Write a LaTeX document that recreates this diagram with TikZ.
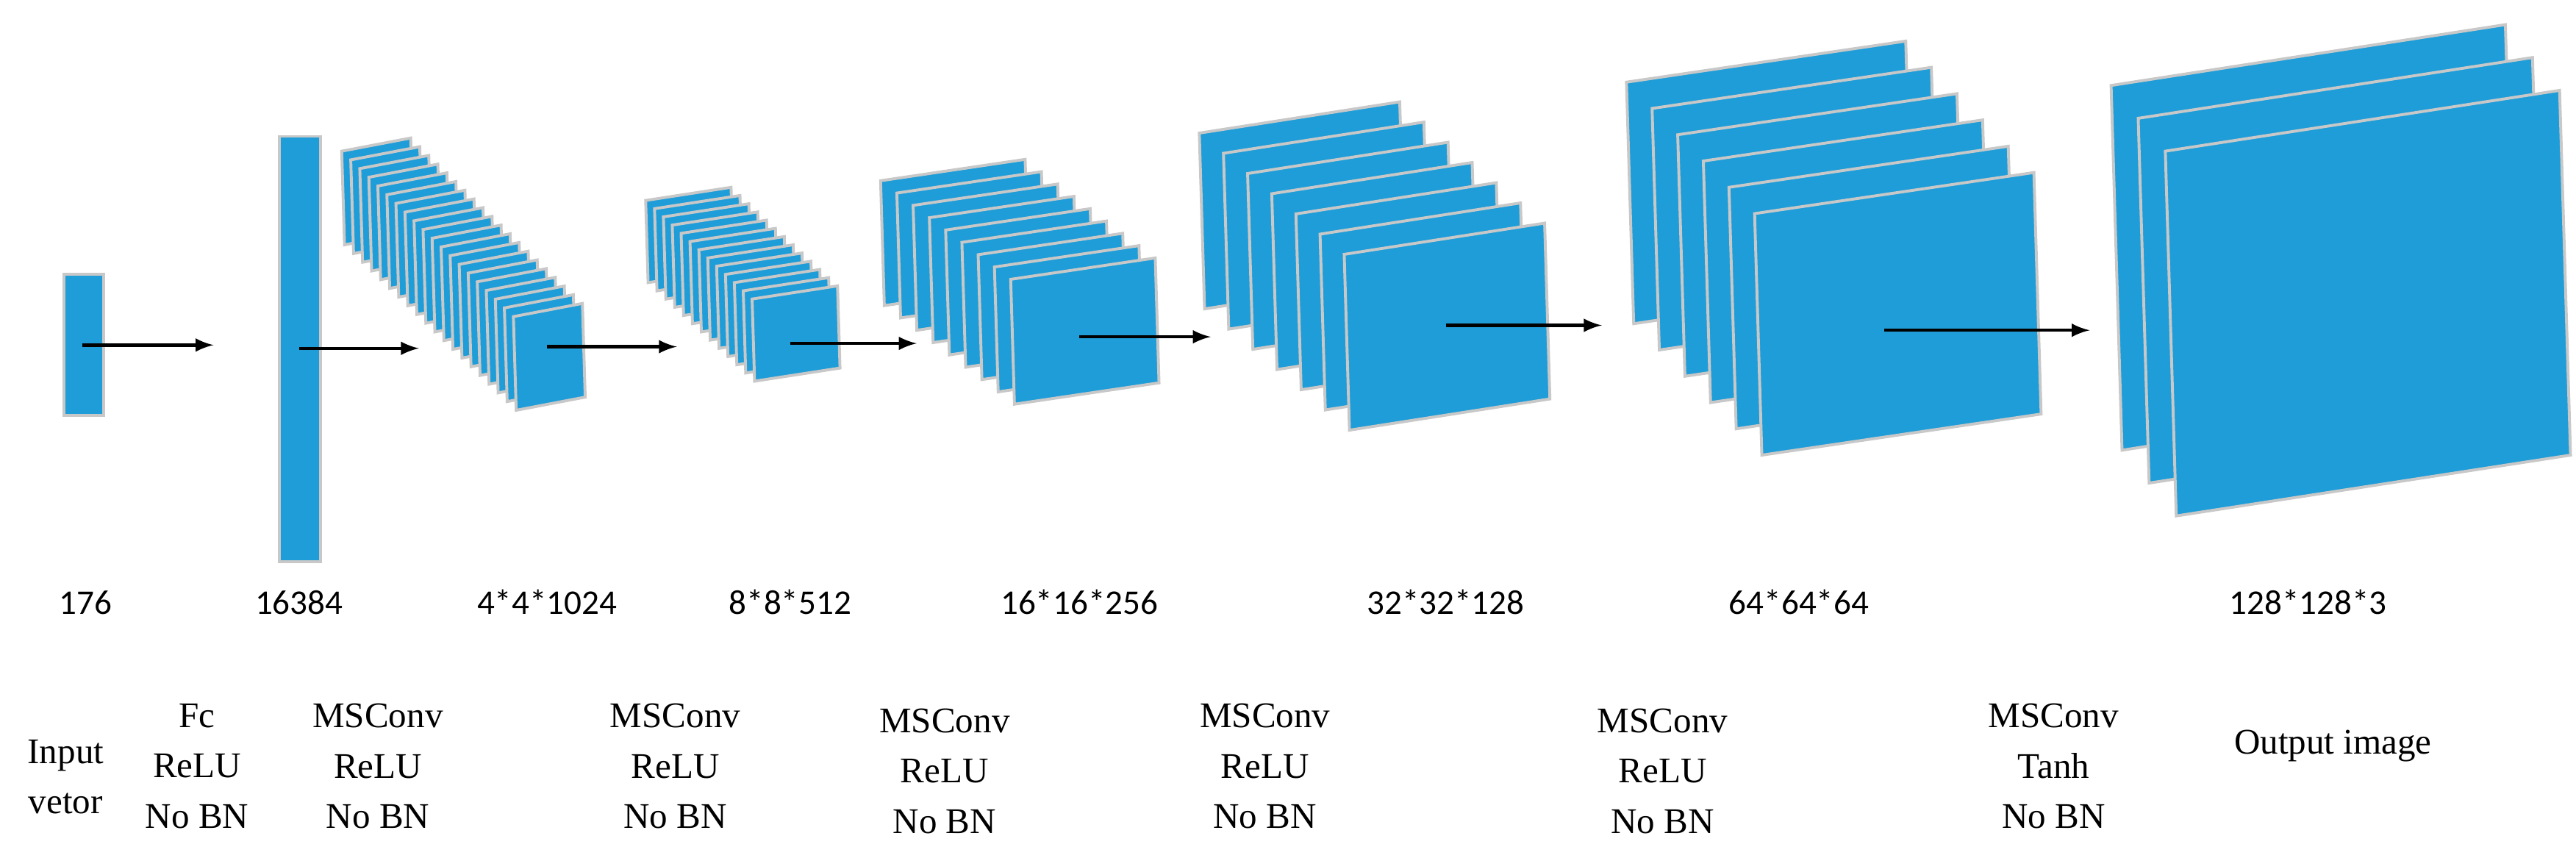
\documentclass[tikz,border=0pt]{standalone}
\usepackage{fontspec}
\setmainfont{Liberation Serif}
\newfontfamily\dimfont{Carlito}
\definecolor{fm}{HTML}{1E9DD8}
\definecolor{fe}{HTML}{C8C8C8}
\newcommand\mystack[8]{% x0 y0 w h slant dx dy n
  \foreach \i in {1,...,#8}{%
    \pgfmathsetmacro\xa{#1+(\i-1)*#6}%
    \pgfmathsetmacro\ya{#2+(\i-1)*#7}%
    \pgfmathsetmacro\ln{0.03*#4}%
    \draw[sheet] (\xa,\ya) -- ++(#3,-#5) -- ++(\ln,#4) -- ++(-#3,#5) -- cycle;
  }}
\begin{document}
\begin{tikzpicture}[x=0.02cm,y=-0.02cm,
  sheet/.style={fill=fm,draw=fe,line width=0.035cm,line join=miter},
  arr/.style={-latex,line width=0.04cm},
  dim/.style={font=\dimfont\fontsize{12}{14}\selectfont,anchor=base},
  lab/.style={font=\fontsize{12.5}{17.5}\selectfont,align=center,anchor=north}]
\useasboundingbox (0,0) rectangle (1568,522);
% bars
\draw[sheet] (39,167) rectangle (63,253);
\draw[sheet] (170,83) rectangle (195,342);
% stacks
\mystack{208}{92}{42}{57}{8}{5.5}{5.3}{20}
\mystack{393}{122}{52}{50}{8}{5.4}{5}{13}
\mystack{536}{110}{88}{76}{13}{9.9}{7.5}{9}
\mystack{730}{81}{122}{107}{19}{14.7}{12.3}{7}
\mystack{990}{50}{170}{147}{25}{15.6}{16}{6}
\mystack{1285}{52}{240}{222}{37}{16.5}{20}{3}
% arrows
\foreach \n/\a/\b/\y in {1/50/130/210,2/182/255/212,3/333/412/211,4/481/558/209,5/657/737/205,6/880/975/198,7/1147/1272/201}{
  \coordinate (s\n) at (\a,\y); \coordinate (e\n) at (\b,\y);
  \draw[arr] (s\n) -- (e\n);}
% dims
\foreach \x/\t [count=\k] in {52/176,182/16384,333/4*4*1024,481/8*8*512,657/16*16*256,880/32*32*128,1095/64*64*64,1405/128*128*3}
  \node[dim] (d\k) at (\x,374) {\t};
% bottom labels
\node[lab] (l0) at (40,444) {Input\\vetor};
\node[lab] (l1) at (120,422) {Fc\\ReLU\\No BN};
\node[lab] (l2) at (230,422) {MSConv\\ReLU\\No BN};
\node[lab] (l3) at (411,422) {MSConv\\ReLU\\No BN};
\node[lab] (l4) at (575,425) {MSConv\\ReLU\\No BN};
\node[lab] (l5) at (770,422) {MSConv\\ReLU\\No BN};
\node[lab] (l6) at (1012,425) {MSConv\\ReLU\\No BN};
\node[lab] (l7) at (1250,422) {MSConv\\Tanh\\No BN};
\node[lab] (l8) at (1420,438) {Output image};
\end{tikzpicture}
\end{document}
